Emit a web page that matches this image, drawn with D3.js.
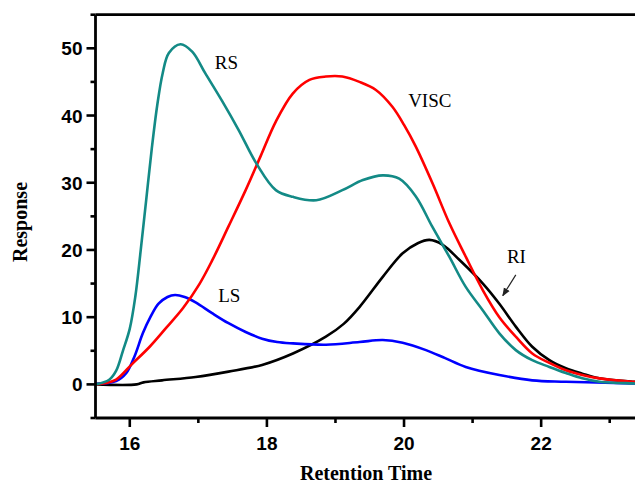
<!DOCTYPE html>
<html>
<head>
<meta charset="utf-8">
<script src="https://cdn.jsdelivr.net/npm/d3@7"></script>
<style>
  body { margin: 0; background: #fff; }
  svg { display: block; }
</style>
</head>
<body>
<script>
// size of the picture
var width = 635,
    height = 483;

// series: [retention time, response]
var rsPoints = [[15.5,0],[15.7,0.7],[15.8,2],[15.9,5],[16.0,8.3],[16.08,13],[16.16,20],[16.24,27.5],
  [16.32,35],[16.4,41.5],[16.48,46.3],[16.57,49.3],[16.74,50.6],[16.91,49.5],[17.1,46.3],[17.35,42.1],
  [17.59,37.8],[17.85,32.8],[18.13,28.9],[18.38,27.9],[18.72,27.4],[19.1,28.9],[19.4,30.4],[19.69,31.1],
  [19.93,30.6],[20.17,28],[20.41,23.5],[20.66,19],[20.9,14.5],[21.15,11],[21.39,7.6],[21.63,5.1],
  [21.87,3.6],[22.12,2.6],[22.36,1.7],[22.6,0.9],[22.85,0.4],[23.33,0.15],[23.5,0.1]];

var viscPoints = [[15.5,0],[15.65,0.2],[15.8,0.7],[16.04,3.1],[16.29,5.6],[16.53,8.4],[16.78,11.4],
  [17.02,15],[17.2,18.4],[17.44,23.5],[17.69,28.9],[17.91,34],[18.13,39.1],[18.38,43.3],[18.62,45.3],
  [18.86,45.8],[19.1,45.8],[19.35,45],[19.59,43.8],[19.83,41.3],[20.0,38.6],[20.17,35.4],[20.42,29.8],
  [20.66,24],[20.9,19],[21.15,14],[21.39,10],[21.63,7.1],[21.87,4.6],[22.12,3.2],[22.36,2.1],
  [22.6,1.4],[22.85,0.9],[23.33,0.4],[23.5,0.3]];

var lsPoints = [[15.5,0.1],[15.8,0.5],[15.95,1.7],[16.07,4.2],[16.19,7.6],[16.3,10],[16.42,12],
  [16.55,13],[16.66,13.3],[16.8,13],[16.96,12.2],[17.2,10.6],[17.44,9.1],[17.69,7.8],[17.93,6.8],
  [18.15,6.3],[18.38,6.1],[18.86,5.9],[19.35,6.3],[19.69,6.6],[19.98,6.2],[20.32,5.1],[20.6,3.9],
  [20.9,2.6],[21.39,1.4],[21.87,0.6],[22.36,0.4],[23.33,0.15],[23.5,0.1]];

var riPoints = [[15.5,0],[16.1,0],[16.2,0.3],[16.47,0.6],[16.96,1.1],[17.44,1.9],[17.93,2.9],
  [18.38,4.6],[18.86,7.1],[19.12,9],[19.35,11.5],[19.69,16],[19.98,19.5],[20.2,21],[20.37,21.5],
  [20.56,20.8],[20.81,18.5],[21.15,15],[21.39,12],[21.63,8.6],[21.87,5.6],[22.12,3.6],[22.36,2.4],
  [22.6,1.6],[22.85,0.9],[23.33,0.4],[23.5,0.3]];

// ticks
var xMajor = [16, 18, 20, 22],
    xMinor = [17, 19, 21, 23];
var yMajor = [0, 10, 20, 30, 40, 50],
    yMinor = [-5, 5, 15, 25, 35, 45, 55];

// labels next to the curves (data coords of the text baseline start)
var curveLabels = [
  { text: 'RS',   x: 17.24, y: 46.9 },
  { text: 'VISC', x: 20.06, y: 41.3 },
  { text: 'LS',   x: 17.29, y: 12.3 },
  { text: 'RI',   x: 21.5,  y: 18.1 }
];

var svg = d3.select('body')
  .append('svg')
  .attr('width', width)
  .attr('height', height);

// scales (plot runs past the right edge of the picture)
var x = d3.scaleLinear()
  .domain([15.5, 23.5])
  .range([95.5, 644]);

var y = d3.scaleLinear()
  .domain([-5, 55])
  .range([418, 14.7]);

var line = d3.line()
  .x(function(d) { return x(d[0]); })
  .y(function(d) { return y(d[1]); })
  .curve(d3.curveCatmullRom.alpha(0.5));

// curves
var series = [
  { pts: riPoints,   color: '#000000' },
  { pts: lsPoints,   color: '#0000ff' },
  { pts: viscPoints, color: '#ff0000' },
  { pts: rsPoints,   color: '#138a86' }
];

svg.append('g')
  .selectAll('path')
  .data(series)
  .enter()
  .append('path')
  .attr('d', function(d) { return line(d.pts); })
  .attr('fill', 'none')
  .attr('stroke', function(d) { return d.color; })
  .attr('stroke-width', 2.6)
  .attr('stroke-linejoin', 'round');

// top frame line
svg.append('line')
  .attr('x1', x(15.5)).attr('x2', width)
  .attr('y1', y(55)).attr('y2', y(55))
  .attr('stroke', '#000').attr('stroke-width', 2.8);

// x axis
var xAxis = svg.append('g')
  .attr('transform', 'translate(0,' + y(-5) + ')');

xAxis.append('line')
  .attr('x1', x(15.5)).attr('x2', width)
  .attr('stroke', '#000').attr('stroke-width', 2.8);

xAxis.selectAll('.maj')
  .data(xMajor)
  .enter()
  .append('line')
  .attr('x1', function(d) { return x(d); })
  .attr('x2', function(d) { return x(d); })
  .attr('y1', 0).attr('y2', 9)
  .attr('stroke', '#000').attr('stroke-width', 2.6);

xAxis.selectAll('.min')
  .data(xMinor)
  .enter()
  .append('line')
  .attr('x1', function(d) { return x(d); })
  .attr('x2', function(d) { return x(d); })
  .attr('y1', 0).attr('y2', 5)
  .attr('stroke', '#000').attr('stroke-width', 2.6);

xAxis.selectAll('text')
  .data(xMajor)
  .enter()
  .append('text')
  .attr('x', function(d) { return x(d); })
  .attr('y', 32)
  .attr('text-anchor', 'middle')
  .style('font-family', 'Liberation Sans, Arial, sans-serif')
  .style('font-weight', 'bold')
  .style('font-size', '19px')
  .text(function(d) { return d; });

// y axis
var yAxis = svg.append('g')
  .attr('transform', 'translate(' + x(15.5) + ',0)');

yAxis.append('line')
  .attr('y1', y(55)).attr('y2', y(-5))
  .attr('stroke', '#000').attr('stroke-width', 2.8);

yAxis.selectAll('.maj')
  .data(yMajor)
  .enter()
  .append('line')
  .attr('y1', function(d) { return y(d); })
  .attr('y2', function(d) { return y(d); })
  .attr('x1', 0).attr('x2', -9)
  .attr('stroke', '#000').attr('stroke-width', 2.6);

yAxis.selectAll('.min')
  .data(yMinor)
  .enter()
  .append('line')
  .attr('y1', function(d) { return y(d); })
  .attr('y2', function(d) { return y(d); })
  .attr('x1', 0).attr('x2', -5)
  .attr('stroke', '#000').attr('stroke-width', 2.6);

yAxis.selectAll('text')
  .data(yMajor)
  .enter()
  .append('text')
  .attr('x', -13)
  .attr('y', function(d) { return y(d) + 7; })
  .attr('text-anchor', 'end')
  .style('font-family', 'Liberation Sans, Arial, sans-serif')
  .style('font-weight', 'bold')
  .style('font-size', '19px')
  .text(function(d) { return d; });

// axis titles
svg.append('text')
  .attr('x', 366)
  .attr('y', 480)
  .attr('text-anchor', 'middle')
  .style('font-family', 'Liberation Serif, Times New Roman, serif')
  .style('font-weight', 'bold')
  .style('font-size', '20px')
  .text('Retention Time');

svg.append('text')
  .attr('transform', 'translate(27,222) rotate(-90)')
  .attr('text-anchor', 'middle')
  .style('font-family', 'Liberation Serif, Times New Roman, serif')
  .style('font-weight', 'bold')
  .style('font-size', '20px')
  .text('Response');

// curve labels
svg.selectAll('.lbl')
  .data(curveLabels)
  .enter()
  .append('text')
  .attr('x', function(d) { return x(d.x); })
  .attr('y', function(d) { return y(d.y); })
  .style('font-family', 'Liberation Serif, Times New Roman, serif')
  .style('font-size', '19px')
  .text(function(d) { return d.text; });

// arrow pointing at the RI curve
svg.append('defs')
  .append('marker')
  .attr('id', 'head')
  .attr('viewBox', '0 0 10 10')
  .attr('refX', 9).attr('refY', 5)
  .attr('markerWidth', 7).attr('markerHeight', 7)
  .attr('orient', 'auto')
  .append('path')
  .attr('d', 'M0,1 L10,5 L0,9 Z')
  .attr('fill', '#222');

svg.append('line')
  .attr('x1', x(21.63)).attr('y1', y(16.3))
  .attr('x2', x(21.44)).attr('y2', y(13.2))
  .attr('stroke', '#222')
  .attr('stroke-width', 1.2)
  .attr('marker-end', 'url(#head)');
</script>
</body>
</html>
